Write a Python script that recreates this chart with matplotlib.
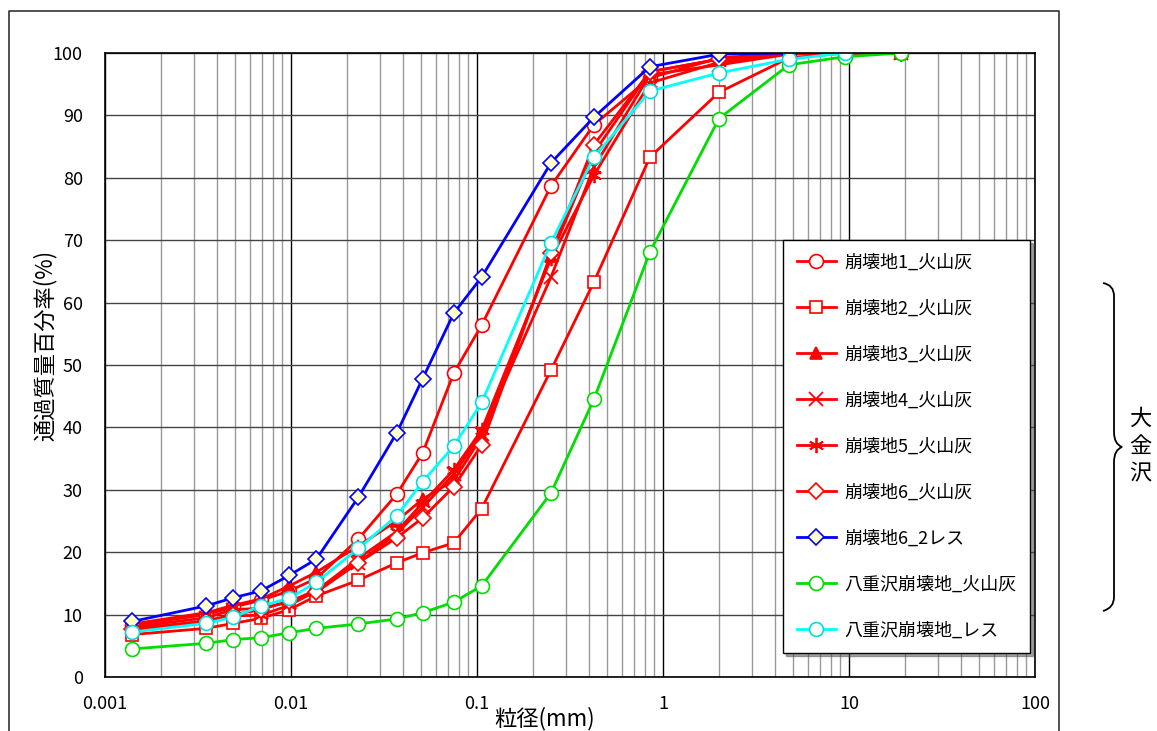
import matplotlib
matplotlib.use("Agg")
import matplotlib.pyplot as plt
from matplotlib.path import Path
from matplotlib.patches import PathPatch
from matplotlib.lines import Line2D

plt.rcParams['font.family'] = ['Noto Sans CJK JP', 'DejaVu Sans']

# ---- data ----
# grain size (mm): hydrometer points then sieves
size = [0.0014, 0.0035, 0.0049, 0.0069, 0.0098, 0.0137, 0.023, 0.037, 0.051,
        0.075, 0.106, 0.25, 0.425, 0.85, 2.0, 4.75, 9.5, 19.0]

s1 = [8.3, 10.0, 11.2, 12.3, 13.8, 15.8, 22.1, 29.3, 35.9, 48.7, 56.4, 78.7, 88.5, 96.0, 99.2, 100, 100, 100]
s2 = [6.8, 7.8, 8.6, 9.4, 10.8, 13.0, 15.5, 18.3, 19.9, 21.5, 27.0, 49.2, 63.3, 83.3, 93.7, 99.2, 100, 100]
s3 = [8.5, 10.3, 11.5, 12.5, 14.6, 16.8, 21.0, 25.0, 28.5, 31.5, 38.5, 67.5, 84.0, 97.0, 99.0, 100, 100, 100]
s4 = [8.0, 9.5, 10.8, 11.0, 12.0, 14.0, 18.3, 23.0, 27.2, 32.5, 39.0, 64.1, 81.7, 96.5, 98.1, 99.8, 100, 100]
s5 = [7.5, 8.8, 9.8, 9.9, 11.5, 13.8, 19.0, 23.3, 27.9, 33.2, 39.6, 67.1, 80.4, 95.2, 98.5, 100, 100, 100]
s6 = [7.7, 9.0, 10.0, 10.8, 12.2, 13.6, 18.3, 22.3, 25.5, 30.5, 37.2, 67.9, 85.3, 97.0, 99.0, 100, 100, 100]
s6_2 = [8.9, 11.4, 12.7, 13.8, 16.3, 18.9, 28.8, 39.1, 47.8, 58.3, 64.1, 82.4, 89.7, 97.8, 99.8, 100]
yae_ash = [4.5, 5.4, 6.0, 6.3, 7.1, 7.8, 8.5, 9.3, 10.3, 12.0, 14.6, 29.5, 44.5, 68.1, 89.5, 98.1, 99.4, 100]
yae_loess = [7.2, 8.6, 9.6, 11.4, 12.6, 15.2, 20.6, 25.8, 31.3, 37.0, 44.0, 69.6, 83.3, 93.9, 96.8, 99.0, 100]

labels = ['崩壊地1_火山灰', '崩壊地2_火山灰', '崩壊地3_火山灰', '崩壊地4_火山灰',
          '崩壊地5_火山灰', '崩壊地6_火山灰', '崩壊地6_2レス',
          '八重沢崩壊地_火山灰', '八重沢崩壊地_レス']
xticks = [0.001, 0.01, 0.1, 1, 10, 100]
xtick_labels = ['0.001', '0.01', '0.1', '1', '10', '100']

# ---- figure ----
fig = plt.figure(figsize=(11.57, 7.31), dpi=100)
ax = fig.add_axes([105/1157, 54/731, 930/1157, 624/731])

red = '#FF0000'
styles = [
    dict(color=red, marker='o', mfc='white', mec=red, ms=10),
    dict(color=red, marker='s', mfc='white', mec=red, ms=9),
    dict(color=red, marker='^', mfc=red, mec=red, ms=8),
    dict(color=red, marker='x', mec=red, ms=10, mew=1.3),
    dict(color=red, marker=(6, 2, 0), mec=red, ms=11, mew=1.3),
    dict(color=red, marker='D', mfc='white', mec=red, ms=8),
    dict(color='#0000FF', marker='D', mfc='#FFFFCC', mec='#0000FF', ms=8),
    dict(color='#00DD00', marker='o', mfc='white', mec='#00DD00', ms=10),
    dict(color='#00FFFF', marker='o', mfc='white', mec='#00DDDD', ms=10),
]
series = [s1, s2, s3, s4, s5, s6, s6_2, yae_ash, yae_loess]

for vals, lab, st in zip(series, labels, styles):
    ax.plot(size[:len(vals)], vals, lw=2, label=lab, mew=st.pop('mew', 1.2), **st)

ax.set_xscale('log')
ax.set_xlim(0.001, 100)
ax.set_ylim(0, 100)
ax.set_yticks(range(0, 101, 10))
ax.set_xticks(xticks)
ax.set_xticklabels(xtick_labels)
ax.tick_params(axis='both', which='both', length=0, labelsize=13)
ax.tick_params(axis='y', pad=16)
ax.tick_params(axis='x', pad=13)
ax.grid(True, which='major', axis='x', color='black', lw=1)
ax.grid(True, which='minor', axis='x', color='#999999', lw=1)
ax.grid(True, which='major', axis='y', color='#444444', lw=1)
ax.set_axisbelow(True)
for sp in ax.spines.values():
    sp.set_linewidth(1.2)

fig.text(545/1157, 1 - 719/731, '粒径(mm)', fontsize=16, ha='center', va='center')
ax.set_ylabel('通過質量百分率(%)', fontsize=16)
ax.yaxis.set_label_coords(-0.052, 0.532)

leg = ax.legend(loc='upper left', bbox_to_anchor=(0.729, 0.700), borderaxespad=0,
                fontsize=13, labelspacing=1.55, handlelength=2.2, handletextpad=0.45,
                borderpad=0.75, fancybox=False, shadow=True, framealpha=1,
                edgecolor='black')
leg.get_frame().set_linewidth(1.0)

# outer chart frame
fig.add_artist(Line2D([9/1157, 9/1157, 1059/1157, 1059/1157],
                      [-0.01, 1-11/731, 1-11/731, -0.01],
                      transform=fig.transFigure, color='#333333', lw=1.2))

# curly bracket + label on the right
def fx(px):
    return px / 1157

def fy(py):
    return 1 - py / 731

verts = [(fx(1103), fy(283)), (fx(1114), fy(285)), (fx(1114), fy(296)),
         (fx(1114), fy(432)), (fx(1114), fy(444)), (fx(1122), fy(447)),
         (fx(1114), fy(450)), (fx(1114), fy(462)),
         (fx(1114), fy(597)), (fx(1114), fy(608)), (fx(1103), fy(611))]
codes = [Path.MOVETO, Path.CURVE3, Path.CURVE3,
         Path.LINETO, Path.CURVE3, Path.CURVE3,
         Path.CURVE3, Path.CURVE3,
         Path.LINETO, Path.CURVE3, Path.CURVE3]
fig.add_artist(PathPatch(Path(verts, codes), transform=fig.transFigure,
                         fill=False, lw=1.3, edgecolor='black'))
for ch, py in zip('大金沢', [418, 446, 474]):
    fig.text(fx(1140), fy(py), ch, fontsize=16, ha='center', va='center')

fig.savefig('out.png', dpi=100)
